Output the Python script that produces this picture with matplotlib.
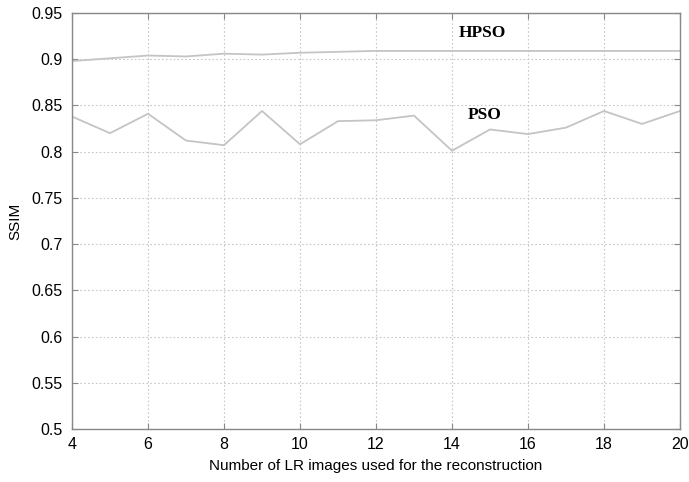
import matplotlib
matplotlib.use("Agg")
import matplotlib.pyplot as plt

x_vals = list(range(4, 21))
hpso = [0.898, 0.901, 0.904, 0.903, 0.906, 0.905, 0.907, 0.908, 0.909, 0.909,
        0.909, 0.909, 0.909, 0.909, 0.909, 0.909, 0.909]
pso = [0.838, 0.820, 0.841, 0.812, 0.807, 0.844, 0.808, 0.833, 0.834, 0.839,
       0.801, 0.824, 0.819, 0.826, 0.844, 0.830, 0.844]
xticks = list(range(4, 21, 2))
yticks = [0.5, 0.55, 0.6, 0.65, 0.7, 0.75, 0.8, 0.85, 0.9, 0.95]
ytick_labels = ["0.5", "0.55", "0.6", "0.65", "0.7", "0.75", "0.8", "0.85", "0.9", "0.95"]

plt.rcParams['font.family'] = ['Liberation Sans', 'DejaVu Sans']

fig = plt.figure(figsize=(6.89, 4.82), dpi=100)
ax = fig.add_axes([72/689, 1 - 429/482, (680-72)/689, (429-13)/482])

line_color = "#c4c4c4"
ax.plot(x_vals, hpso, color=line_color, lw=1.3)
ax.plot(x_vals, pso, color=line_color, lw=1.3)

ax.set_xlim(4, 20)
ax.set_ylim(0.5, 0.95)
ax.set_xticks(xticks)
ax.set_yticks(yticks)
ax.set_yticklabels(ytick_labels)
ax.tick_params(direction="in", top=True, right=True, labelsize=11.5,
               color="#888888", length=4)
ax.tick_params(axis="y", pad=7)
ax.tick_params(axis="x", pad=6)
ax.grid(True, linestyle=(0, (1.5, 2)), color="#c8c8c8", lw=0.8)
for s in ax.spines.values():
    s.set_color("#888888")
    s.set_linewidth(1.0)

ax.set_xlabel("Number of LR images used for the reconstruction", fontsize=11, labelpad=5)
ax.set_ylabel("SSIM", fontsize=11, labelpad=6)

ax.text(14.8, 0.928, "HPSO", family=["Liberation Serif"], fontweight="bold",
        fontsize=12.5, ha="center", va="center")
ax.text(14.85, 0.8395, "PSO", family=["Liberation Serif"], fontweight="bold",
        fontsize=12.5, ha="center", va="center")

fig.savefig("out.png", dpi=100)
